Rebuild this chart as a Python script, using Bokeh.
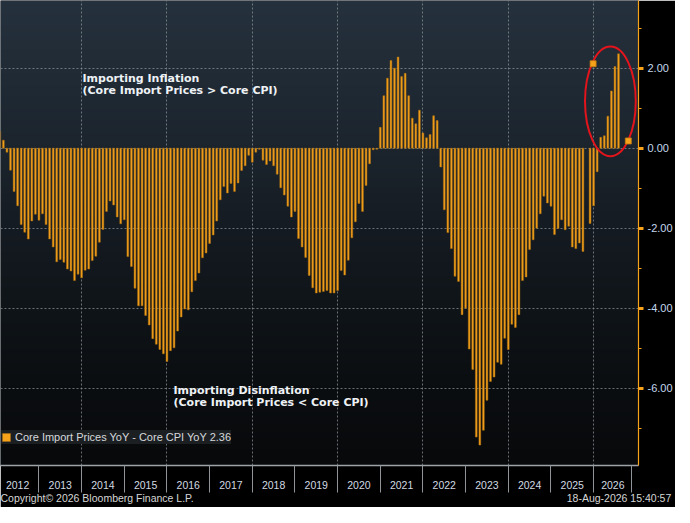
import numpy as np
from bokeh.plotting import figure
from bokeh.models import (ColumnDataSource, Range1d, FixedTicker, PrintfTickFormatter,
                          CustomJSTickFormatter, Legend, LegendItem, Label, LinearAxis)
from bokeh.embed import file_html
from bokeh.resources import INLINE

NAN = float("nan")

# ---------------- data (monthly, Jan..Dec) ----------------
YEARS = list(range(2012, 2027))
SPREAD_2012 = [0.42, 0.20, -0.10, -0.55, -1.08, -1.44, -1.91, -2.10, -2.27, -1.82, -1.65, -1.80]
SPREAD_2013 = [-1.64, -1.91, -2.27, -2.47, -2.84, -2.78, -2.85, -3.02, -3.07, -3.31, -3.15, -3.24]
SPREAD_2014 = [-3.05, -3.02, -2.81, -2.70, -2.35, -2.03, -1.58, -1.32, -1.42, -1.72, -1.89, -1.79]
SPREAD_2015 = [-2.71, -2.96, -3.50, -3.94, -3.94, -4.18, -4.42, -4.76, -4.90, -5.03, -5.14, -5.33]
SPREAD_2016 = [-5.06, -4.99, -4.57, -4.22, -4.02, -4.04, -3.59, -3.31, -3.12, -2.74, -2.62, -2.38]
SPREAD_2017 = [-2.17, -1.82, -1.29, -0.96, -1.12, -0.88, -1.08, -0.87, -0.56, -0.44, -0.18, -0.35]
SPREAD_2018 = [-0.10, -0.03, -0.30, -0.41, -0.32, -0.44, -0.65, -0.99, -1.17, -1.45, -1.72, -1.58]
SPREAD_2019 = [-2.26, -2.47, -2.73, -3.18, -3.49, -3.62, -3.60, -3.58, -3.56, -3.62, -3.62, -3.56]
SPREAD_2020 = [-3.06, -3.17, -2.80, -2.24, -1.84, -1.38, -1.58, -0.93, -0.39, -0.04, -0.03, 0.52]
SPREAD_2021 = [1.31, 1.75, 2.19, 2.00, 2.28, 1.79, 1.87, 1.31, 0.75, 0.61, 0.95, 0.38]
SPREAD_2022 = [0.26, 0.34, 0.81, 0.69, -0.47, -1.54, -2.11, -2.51, -3.20, -3.33, -4.16, -4.00]
SPREAD_2023 = [-5.02, -5.53, -7.22, -7.42, -7.05, -6.30, -5.83, -5.72, -5.35, -5.40, -4.75, -5.03]
SPREAD_2024 = [-4.40, -4.48, -4.16, -3.31, -3.22, -2.53, -2.29, -2.00, -1.64, -1.20, -1.37, -1.45]
SPREAD_2025 = [-2.16, -2.01, -1.79, -2.04, -1.95, -2.47, -2.51, -2.37, -2.58, NAN, -1.88, -1.44]
SPREAD_2026 = [-0.59, 0.27, 0.31, 0.80, 1.43, 2.04, 2.36]

SERIES_NAME = "Core Import Prices YoY - Core CPI YoY"
Y_TICKS = [-6, -4, -2, 0, 2]
Y_MINOR = [-7, -5, -3, -1, 1, 3]
GRID_YEARS = [2014, 2016, 2018, 2020, 2022, 2024, 2026]
N_HIGHLIGHT = 7  # months circled at the end
FOOTER_TEXTS = ["Copyright\u00a9 2026 Bloomberg Finance L.P.", "18-Aug-2026 15:40:57"]

BY_YEAR = [SPREAD_2012, SPREAD_2013, SPREAD_2014, SPREAD_2015, SPREAD_2016,
           SPREAD_2017, SPREAD_2018, SPREAD_2019, SPREAD_2020, SPREAD_2021,
           SPREAD_2022, SPREAD_2023, SPREAD_2024, SPREAD_2025, SPREAD_2026]

xs, vs = [], []
for yr, vals in zip(YEARS, BY_YEAR):
    for m, v in enumerate(vals):
        if not np.isnan(v):
            xs.append(yr + (m + 1) / 12.0)   # plotted at month end
            vs.append(v)
src = ColumnDataSource(dict(x=xs, v=vs))

# ---------------- styles ----------------
ORANGE = "#f7a21b"
X0, X1 = 2012.099, 2027.052
Y0, Y1 = -7.93, 3.69
FW, FH = 638, 465

p = figure(frame_width=FW, frame_height=FH,
           x_range=Range1d(X0, X1), y_range=Range1d(Y0, Y1),
           y_axis_location="right",
           output_backend="svg", toolbar_location=None,
           min_border_left=0, min_border_top=0, min_border_right=36, min_border_bottom=42,
           background_fill_color="#151c23", border_fill_color="#000000",
           outline_line_color=None)

# background gradient (row 0 = bottom)
ny = 256
t = np.linspace(0.0, 1.0, ny)
st = [0.0, 0.17, 0.33, 0.51, 0.69, 1.0]
rr = np.interp(t, st, [8, 11, 15, 21, 28, 37])
gg = np.interp(t, st, [9, 14, 20, 27, 37, 49])
bb = np.interp(t, st, [11, 17, 24, 34, 46, 61])
img = np.empty((ny, 1), dtype=np.uint32)
view = img.view(dtype=np.uint8).reshape((ny, 1, 4))
view[:, 0, 0] = rr.astype(np.uint8)
view[:, 0, 1] = gg.astype(np.uint8)
view[:, 0, 2] = bb.astype(np.uint8)
view[:, 0, 3] = 255
p.image_rgba(image=[img], x=X0, y=Y0, dw=X1 - X0, dh=Y1 - Y0, level="image")

# grids
p.xgrid.ticker = FixedTicker(ticks=GRID_YEARS)
for g in (p.xgrid, p.ygrid):
    g.grid_line_color = "#8a9097"
    g.grid_line_dash = "2 2"
    g.grid_line_alpha = 0.75
    g.grid_line_width = 1

# bars
bars = p.vbar(x="x", top="v", bottom=0, width=0.042, source=src,
              fill_color=ORANGE, line_color="#a86e12", line_width=0.5)

# highlight ellipse + handles
hx, hv = xs[-N_HIGHLIGHT:], vs[-N_HIGHLIGHT:]
e_xc = (hx[0] + hx[-1]) / 2 + 0.06
e_w = (hx[-1] - hx[0]) + 0.69
e_top, e_bot = max(hv) + 0.18, -0.20
e_yc, e_h = (e_top + e_bot) / 2, e_top - e_bot
p.ellipse(x=e_xc, y=e_yc, width=e_w, height=e_h,
          fill_color=None, line_color="#e3141b", line_width=2)
p.scatter(x=[e_xc - 0.405, e_xc + 0.42], y=[e_yc + 0.94, e_yc - 0.99],
          marker="square", size=6, fill_color=ORANGE, line_color="#c27c10", line_width=0.8)

# right axis
ya = p.yaxis[0]
ya.ticker = FixedTicker(ticks=Y_TICKS, minor_ticks=Y_MINOR)
ya.formatter = PrintfTickFormatter(format="%.2f")
ya.axis_line_color = ORANGE
ya.axis_line_width = 1.2
ya.major_tick_line_color = ORANGE
ya.major_tick_line_width = 3
ya.major_tick_in = 0
ya.major_tick_out = 5
ya.minor_tick_line_color = ORANGE
ya.minor_tick_in = 0
ya.minor_tick_out = 3
ya.major_label_standoff = 4
ya.major_label_text_font = "Liberation Sans"
ya.major_label_text_font_size = "11px"
ya.major_label_text_color = "#c3d8ee"

# bottom axis: year separators as minor ticks, labels centred in each year
xa = p.xaxis[0]
mid_ticks = [y + 0.5 for y in YEARS[:-1]] + [YEARS[-1] + 0.45]
sep_ticks = [y for y in YEARS[1:]] + [YEARS[-1] + 0.89]
xa.ticker = FixedTicker(ticks=mid_ticks, minor_ticks=sep_ticks)
xa.formatter = CustomJSTickFormatter(code="return Math.floor(tick).toString();")
xa.axis_line_color = "#9ea3a8"
xa.axis_line_width = 1.5
xa.major_tick_line_color = None
xa.major_tick_in = 0
xa.major_tick_out = 0
xa.minor_tick_line_color = "#8f9499"
xa.minor_tick_in = 0
xa.minor_tick_out = 27
xa.major_label_standoff = -12
xa.major_label_text_font = "Liberation Sans"
xa.major_label_text_font_size = "10.5px"
xa.major_label_text_color = "#d2dae2"

# footer line (copyright left, timestamp right) as a label-only axis below
px_per_year = FW / (X1 - X0)
foot_w = [190.0, 107.0]
foot_ticks = [X0 + (foot_w[0] / 2) / px_per_year,
              X0 + (672 - foot_w[1] / 2) / px_per_year]
fa = LinearAxis(ticker=FixedTicker(ticks=foot_ticks, minor_ticks=[]),
                formatter=CustomJSTickFormatter(args=dict(labels=FOOTER_TEXTS),
                                                code="return labels[index];"),
                axis_line_color=None, major_tick_line_color=None, minor_tick_line_color=None,
                major_tick_in=0, major_tick_out=0, minor_tick_in=0, minor_tick_out=0,
                major_label_standoff=0,
                major_label_text_font="Liberation Sans", major_label_text_font_size="10.5px",
                major_label_text_color="#d6d6d6")
p.add_layout(fa, "below")

# legend
legend = Legend(items=[LegendItem(label=f"{SERIES_NAME} {vs[-1]:.2f}", renderers=[bars])],
                location=(1, 21), margin=0, padding=5, spacing=0,
                glyph_width=10, glyph_height=10, label_height=14, label_standoff=4,
                label_text_font="Liberation Sans", label_text_font_size="11px",
                label_text_color="#d5d8dc", background_fill_color="#1c1f22",
                background_fill_alpha=1.0, border_line_color=None)
p.add_layout(legend)

# text annotations
ann_font = "DejaVu Sans"
for txt, x, y in [("Importing Inflation", 82, 387.4),
                  ("(Core Import Prices > Core CPI)", 82, 374.8),
                  ("Importing Disinflation", 173, 74.6),
                  ("(Core Import Prices < Core CPI)", 173, 62.7)]:
    p.add_layout(Label(x=x, y=y, x_units="screen", y_units="screen", text=txt,
                       text_font=ann_font, text_font_size="11px", text_font_style="bold",
                       text_color="#eef2f5", text_baseline="middle", text_align="left"))

open("out.html", "w").write(file_html(p, INLINE))
